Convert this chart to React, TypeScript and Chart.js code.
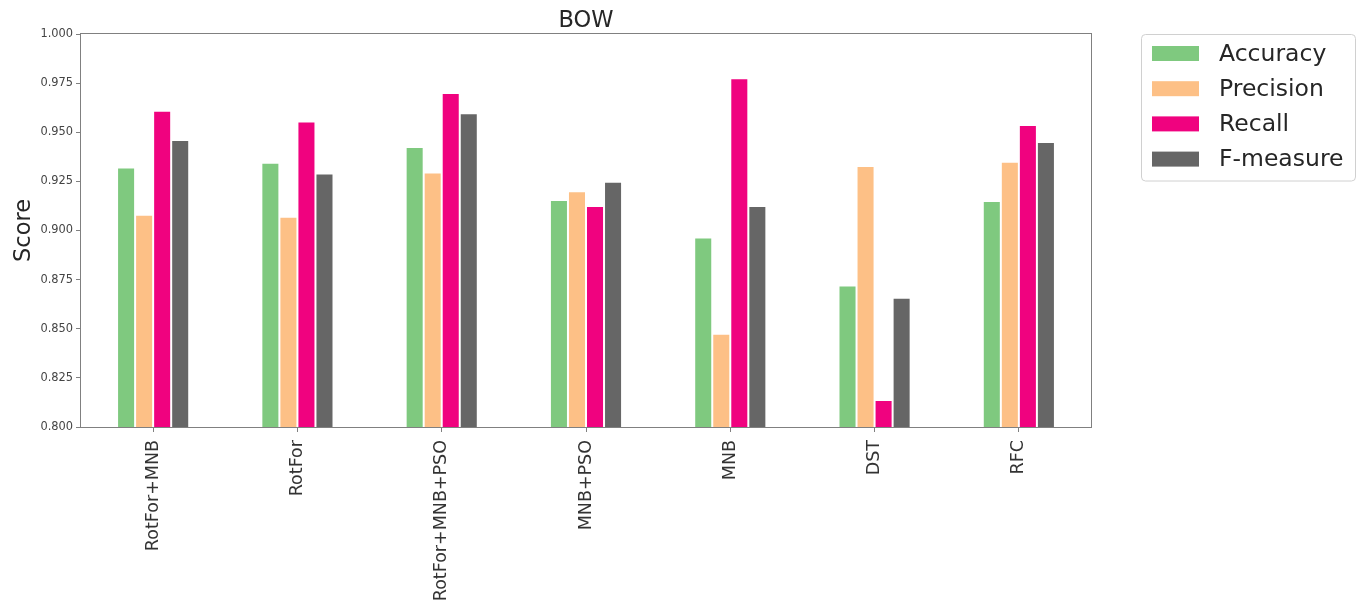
import React, { useEffect, useRef } from "react";
import { Chart, registerables } from "chart.js";

Chart.register(...registerables);

// Classifiers compared on the BOW feature set
const categories = ["RotFor+MNB", "RotFor", "RotFor+MNB+PSO", "MNB+PSO", "MNB", "DST", "RFC"];

const accuracy = [0.932, 0.9345, 0.9425, 0.9155, 0.8965, 0.872, 0.915];
const precision = [0.908, 0.907, 0.9295, 0.92, 0.8475, 0.9328, 0.935];
const recall = [0.961, 0.9555, 0.970, 0.9125, 0.9775, 0.8137, 0.9537];
const fMeasure = [0.946, 0.929, 0.9597, 0.9248, 0.9125, 0.8658, 0.945];

const seriesNames = ["Accuracy", "Precision", "Recall", "F-measure"];
const seriesColors = ["#7fc97f", "#fdc086", "#f0027f", "#666666"];

const yTicks = [0.8, 0.825, 0.85, 0.875, 0.9, 0.925, 0.95, 0.975, 1.0];

const FONT = "'DejaVu Sans', sans-serif";

// Draws the frame, title, y-axis label and boxed legend
const decorations = {
  id: "decorations",
  afterDraw(chart: any) {
    const { ctx, chartArea } = chart;
    const { left, right, top, bottom } = chartArea;
    ctx.save();

    // plot frame
    ctx.strokeStyle = "#808080";
    ctx.lineWidth = 1;
    ctx.strokeRect(Math.round(left) - 0.5, Math.round(top) - 0.5, Math.round(right - left) + 1, Math.round(bottom - top) + 1);

    // title
    ctx.fillStyle = "#262626";
    ctx.font = `22.5px ${FONT}`;
    ctx.textAlign = "center";
    ctx.textBaseline = "alphabetic";
    ctx.fillText("BOW", (left + right) / 2, 26.5);

    // y axis label
    ctx.save();
    ctx.translate(30, (top + bottom) / 2);
    ctx.rotate(-Math.PI / 2);
    ctx.textAlign = "center";
    ctx.fillText("Score", 0, 0);
    ctx.restore();

    // legend
    const bx = 1141.5, by = 34.5, bw = 214, bh = 146.5, r = 4;
    ctx.beginPath();
    ctx.moveTo(bx + r, by);
    ctx.lineTo(bx + bw - r, by);
    ctx.quadraticCurveTo(bx + bw, by, bx + bw, by + r);
    ctx.lineTo(bx + bw, by + bh - r);
    ctx.quadraticCurveTo(bx + bw, by + bh, bx + bw - r, by + bh);
    ctx.lineTo(bx + r, by + bh);
    ctx.quadraticCurveTo(bx, by + bh, bx, by + bh - r);
    ctx.lineTo(bx, by + r);
    ctx.quadraticCurveTo(bx, by, bx + r, by);
    ctx.closePath();
    ctx.fillStyle = "rgba(255,255,255,0.8)";
    ctx.fill();
    ctx.strokeStyle = "#d0d0d0";
    ctx.stroke();

    ctx.font = `23.5px ${FONT}`;
    ctx.textAlign = "left";
    ctx.textBaseline = "middle";
    chart.data.datasets.forEach((ds: any, i: number) => {
      const cy = 53.5 + i * 35.2;
      ctx.fillStyle = ds.backgroundColor;
      ctx.fillRect(1152, cy - 7.5, 47, 15);
      ctx.fillStyle = "#262626";
      ctx.fillText(ds.label, 1219, cy + 1);
    });

    ctx.restore();
  },
};

export default function App() {
  const canvasRef = useRef<HTMLCanvasElement | null>(null);

  useEffect(() => {
    if (!canvasRef.current) return;
    const series = [accuracy, precision, recall, fMeasure];
    const chart = new Chart(canvasRef.current, {
      type: "bar",
      data: {
        labels: categories,
        datasets: series.map((values, i) => ({
          label: seriesNames[i],
          data: values,
          backgroundColor: seriesColors[i],
          borderColor: "rgba(255,255,255,0.9)",
          borderWidth: 1,
          borderSkipped: "bottom",
          categoryPercentage: 0.5,
          barPercentage: 1.0,
        })),
      },
      options: {
        animation: false,
        responsive: true,
        maintainAspectRatio: false,
        devicePixelRatio: 1,
        layout: { padding: { left: 0, top: 34, right: 273, bottom: 0 } },
        plugins: {
          legend: { display: false },
          title: { display: false },
          tooltip: { enabled: false },
        },
        scales: {
          x: {
            afterFit(scale: any) {
              scale.height = 178;
            },
            border: { display: false },
            grid: {
              display: true,
              drawOnChartArea: false,
              drawTicks: true,
              tickLength: 5,
              tickColor: "#808080",
              offset: false,
            },
            ticks: {
              color: "#333333",
              font: { family: FONT, size: 17.5 },
              minRotation: 90,
              maxRotation: 90,
              padding: 8,
              autoSkip: false,
            },
          },
          y: {
            min: 0.8,
            max: 1.0,
            afterFit(scale: any) {
              scale.width = 81;
            },
            afterBuildTicks(scale: any) {
              scale.ticks = yTicks.map((v) => ({ value: v }));
            },
            border: { display: false },
            grid: {
              display: true,
              drawOnChartArea: false,
              drawTicks: true,
              tickLength: 5,
              tickColor: "#808080",
            },
            ticks: {
              color: "#444444",
              font: { family: FONT, size: 11.4 },
              padding: 3,
              callback: (v: any) => Number(v).toFixed(3),
            },
          },
        },
      },
      plugins: [decorations],
    });
    return () => chart.destroy();
  }, []);

  return (
    <div style={{ position: "fixed", left: 0, top: 0, width: 1364, height: 605, background: "#ffffff" }}>
      <canvas ref={canvasRef} />
    </div>
  );
}
